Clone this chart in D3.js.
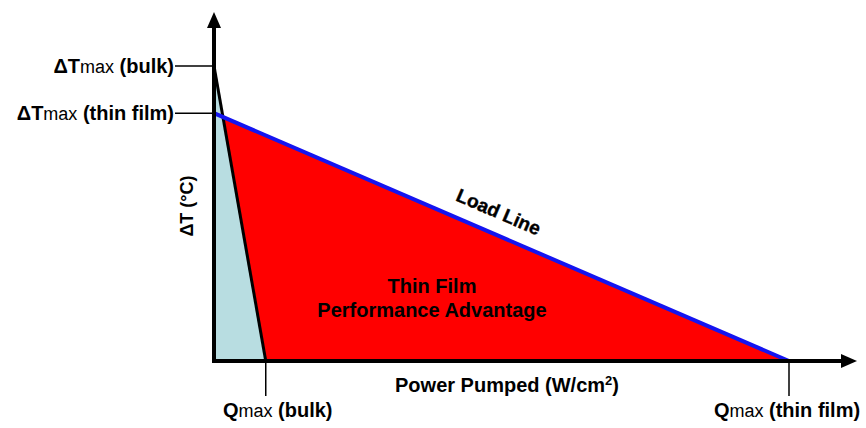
<!DOCTYPE html>
<html><head><meta charset="utf-8">
<script src="https://cdn.jsdelivr.net/npm/d3@7"></script>
<style>body{margin:0;background:#fff}svg{display:block}text{font-family:"Liberation Sans",Arial,sans-serif;font-weight:bold;fill:#000}</style>
</head><body>
<script>
// Normalised values
const curves = ["bulk", "thin film"];
const deltaTmax = [1.0, 0.84];   // intercept on ΔT axis
const qmax = [0.09, 1.0];        // intercept on power axis
const yTickLabels = ["(bulk)", "(thin film)"];
const xTickLabels = ["(bulk)", "(thin film)"];

const W = 866, H = 428;
const svg = d3.select("body").append("svg").attr("width", W).attr("height", H);
const x = d3.scaleLinear().domain([0, 1]).range([214, 789]);
const y = d3.scaleLinear().domain([0, 1]).range([361, 66]);

const line = d3.line().x(d => x(d[0])).y(d => y(d[1]));
// thin film triangle (red)
svg.append("path").attr("d", line([[0,0],[0,deltaTmax[1]],[qmax[1],0]]) + "Z").attr("fill", "#ff0000");
// bulk triangle (light blue)
svg.append("path").attr("d", line([[0,0],[0,deltaTmax[0]],[qmax[0],0]]) + "Z").attr("fill", "#b8dde1");
// bulk line
svg.append("path").attr("d", line([[0,deltaTmax[0]],[qmax[0],0]])).attr("stroke", "#000").attr("stroke-width", 3).attr("fill", "none");
// load line
svg.append("path").attr("d", line([[0,deltaTmax[1]],[qmax[1],0]])).attr("stroke", "#1414f0").attr("stroke-width", 4).attr("fill", "none");

// axes
svg.append("line").attr("x1", x(0)).attr("x2", x(0)).attr("y1", y(0)+2).attr("y2", 24).attr("stroke", "#000").attr("stroke-width", 4);
svg.append("path").attr("d", `M${x(0)-7},28 L${x(0)},12 L${x(0)+7},28 Z`).attr("fill", "#000");
svg.append("line").attr("x1", x(0)-2).attr("x2", 846).attr("y1", y(0)).attr("y2", y(0)).attr("stroke", "#000").attr("stroke-width", 4);
svg.append("path").attr("d", `M841,${y(0)-7} L857,${y(0)} L841,${y(0)+7} Z`).attr("fill", "#000");

// y ticks
deltaTmax.forEach((v, i) => {
  svg.append("line").attr("x1", x(0)-39).attr("x2", x(0)).attr("y1", y(v)).attr("y2", y(v)).attr("stroke", "#000").attr("stroke-width", 1.5);
  const t = svg.append("text").attr("x", x(0)-40).attr("y", y(v)+7).attr("text-anchor", "end").attr("font-size", 20);
  t.append("tspan").text("ΔT");
  t.append("tspan").attr("font-weight", "normal").attr("font-size", 18).text("max");
  t.append("tspan").text(" " + yTickLabels[i]);
});
// x ticks
qmax.forEach((v, i) => {
  svg.append("line").attr("x1", x(v)).attr("x2", x(v)).attr("y1", y(0)).attr("y2", y(0)+35).attr("stroke", "#000").attr("stroke-width", 1.5);
  const t = svg.append("text").attr("x", x(v) + (i === 0 ? 12 : -2)).attr("y", 417).attr("text-anchor", "middle").attr("font-size", 20);
  t.append("tspan").text("Q");
  t.append("tspan").attr("font-weight", "normal").attr("font-size", 18).text("max");
  t.append("tspan").text(" " + xTickLabels[i]);
});

// axis titles
const xt = svg.append("text").attr("x", 507).attr("y", 392).attr("text-anchor", "middle").attr("font-size", 20).text("Power Pumped (W/cm");
xt.append("tspan").attr("font-size", 13).attr("dy", -7).text("2");
xt.append("tspan").attr("dy", 7).text(")");
svg.append("text").attr("transform", "translate(193,206) rotate(-90)").attr("text-anchor", "middle").attr("font-size", 18).text("ΔT (°C)");

// annotations
const ang = Math.atan2(y(0) - y(deltaTmax[1]), x(qmax[1]) - x(0)) * 180 / Math.PI;
svg.append("text").attr("transform", `translate(496,218) rotate(${ang})`).attr("text-anchor", "middle").attr("font-size", 19).attr("font-weight", "normal").attr("stroke", "#000").attr("stroke-width", 0.4).text("Load Line");
svg.append("text").attr("x", 432).attr("y", 293).attr("text-anchor", "middle").attr("font-size", 20).attr("fill", "#1a0000").text("Thin Film");
svg.append("text").attr("x", 432).attr("y", 317).attr("text-anchor", "middle").attr("font-size", 20).attr("fill", "#1a0000").text("Performance Advantage");
</script>
</body></html>
